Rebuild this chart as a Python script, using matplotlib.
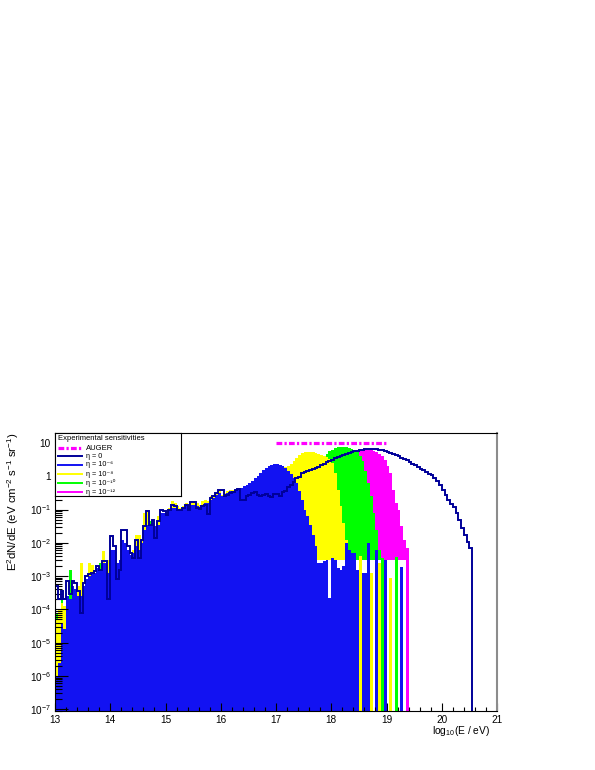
# E^2 dN/dE spectra for several eta values, ROOT-style log plot
import numpy as np
import matplotlib.pyplot as plt
from matplotlib.ticker import FixedLocator, LogLocator, NullFormatter, FuncFormatter, MultipleLocator

plt.rcParams['font.family'] = ['Liberation Sans', 'DejaVu Sans']
plt.rcParams['mathtext.fontset'] = 'custom'
plt.rcParams['mathtext.rm'] = 'Liberation Sans'
plt.rcParams['mathtext.it'] = 'Liberation Sans:italic'
plt.rcParams['mathtext.default'] = 'regular'

# histogram binning: log10(E/eV) from 13 in steps of 0.05
E_START = 13.0
BIN_W = 0.05

# log10 of bin contents, one row = 10 bins (0.5 in log10 E); nan = empty bin
nan = np.nan
eta_0 = [
    -3.3, -3.7, -3.45, -3.7, -3.15, -3.55, -3.15, -3.2, -3.45, -4.1,
    -3.2, -3.0, -2.95, -2.9, -2.85, -2.7, -2.8, -2.55, -2.55, -3.7,
    -1.8, -2.1, -3.1, -2.8, -1.6, -1.6, -2.1, -2.3, -2.45, -1.9,
    -2.45, -1.9, -1.5, -1.05, -1.45, -1.3, -1.85, -1.35, -1.0, -1.05,
    -1.15, -1.0, -0.85, -0.9, -1.0, -1.0, -0.95, -0.87, -1.0, -0.78,
    -0.78, -0.95, -0.97, -0.9, -0.85, -1.12, -0.65, -0.6, -0.5, -0.42,
    -0.4, -0.6, -0.55, -0.5, -0.48, -0.4, -0.38, -0.7, -0.72, -0.58,
    -0.57, -0.5, -0.47, -0.55, -0.6, -0.55, -0.52, -0.6, -0.62, -0.52,
    -0.52, -0.58, -0.47, -0.45, -0.32, -0.25, -0.17, -0.05, -0.02, 0.1,
    0.13, 0.17, 0.2, 0.22, 0.25, 0.28, 0.33, 0.37, 0.42, 0.46,
    0.5, 0.54, 0.58, 0.62, 0.65, 0.68, 0.7, 0.73, 0.75, 0.77,
    0.79, 0.8, 0.81, 0.82, 0.82, 0.82, 0.81, 0.8, 0.78, 0.76,
    0.73, 0.7, 0.67, 0.63, 0.6, 0.56, 0.52, 0.48, 0.43, 0.38,
    0.33, 0.28, 0.23, 0.18, 0.13, 0.08, 0.03, -0.05, -0.15, -0.27,
    -0.4, -0.55, -0.7, -0.82, -0.93, -1.1, -1.3, -1.55, -1.75, -1.98,
    -2.15,
]
eta_6 = [
    -6.0, -5.6, -4.4, -4.6, -3.6, -3.7, -3.3, -3.4, -3.6, -3.6,
    -3.3, -3.1, -3.0, -2.95, -2.9, -2.75, -2.85, -2.6, -2.6, -2.9,
    -2.2, -2.2, -2.6, -2.5, -1.9, -2.0, -2.2, -2.35, -2.3, -2.1,
    -2.2, -2.0, -1.6, -1.45, -1.5, -1.4, -1.5, -1.45, -1.1, -1.1,
    -1.15, -1.05, -0.95, -0.95, -1.0, -1.0, -0.95, -0.9, -0.95, -0.85,
    -0.85, -0.9, -0.95, -0.85, -0.8, -0.8, -0.7, -0.65, -0.55, -0.5,
    -0.6, -0.55, -0.5, -0.45, -0.45, -0.4, -0.35, -0.35, -0.3, -0.25,
    -0.2, -0.15, -0.05, 0.02, 0.1, 0.18, 0.25, 0.3, 0.35, 0.37,
    0.37, 0.35, 0.3, 0.25, 0.17, 0.07, -0.05, -0.2, -0.45, -0.7,
    -1.0, -1.2, -1.45, -1.75, -2.1, -2.6, -2.6, -2.55, -2.5, -3.65,
    -2.45, -2.5, -2.75, -2.8, -2.7, -2.0, -2.2, -2.3, -2.3, -2.8,
    nan, -2.9, -2.9, -2.0, nan, nan, -2.2, nan, nan, -2.5,
    nan, nan, nan, nan, nan, -2.73,
]
eta_8 = [
    -4.3, -4.0, -3.8, -3.9, -3.7, -3.9, -3.5, -3.6, -3.3, -2.6,
    -3.4, -3.2, -2.6, -2.65, -3.0, -2.9, -2.9, -2.25, -2.7, -2.5,
    -2.4, -2.3, -2.7, -2.6, -2.0, -2.1, -2.3, -2.4, -2.2, -1.75,
    -1.75, -1.9, -1.1, -1.0, -1.6, -1.5, -1.6, -1.2, -1.2, -1.1,
    -1.0, -0.95, -0.75, -0.8, -0.9, -0.95, -0.9, -0.8, -0.85, -0.8,
    -0.75, -0.8, -0.85, -0.75, -0.7, -0.75, -0.6, -0.55, -0.5, -0.45,
    -0.55, -0.5, -0.45, -0.4, -0.4, -0.45, -0.4, -0.35, -0.35, -0.3,
    -0.3, -0.25, -0.2, -0.15, -0.1, -0.05, 0.0, 0.05, 0.1, 0.15,
    0.2, 0.22, 0.25, 0.28, 0.3, 0.38, 0.47, 0.56, 0.64, 0.7,
    0.73, 0.74, 0.74, 0.72, 0.7, 0.67, 0.63, 0.6, 0.57, 0.52,
    0.4, 0.1, -0.4, -0.9, -1.4, -1.9, -2.4, -2.6, -2.6, nan,
    -2.4, nan, nan, nan, -2.9, nan, nan, -2.6, nan, nan,
    nan, -3.05,
]
eta_10 = [
    -4.1, -4.0, -3.7, -4.0, -3.8, -2.8, -3.4, -3.5, -3.4, -3.2,
    -3.4, -3.2, -3.0, -3.0, -3.0, -2.85, -2.6, -2.6, -2.7, -2.8,
    -2.4, -2.3, -2.7, -2.6, -2.1, -2.1, -2.3, -2.4, -2.3, -2.1,
    -2.1, -2.0, -1.6, -1.5, -1.35, -1.5, -1.6, -1.4, -1.2, -1.1,
    -1.1, -0.95, -0.9, -0.9, -1.0, -1.0, -0.95, -0.9, -0.9, -0.85,
    -0.8, -0.85, -0.9, -0.8, -0.8, -0.8, -0.65, -0.6, -0.55, -0.5,
    -0.55, -0.5, -0.45, -0.45, -0.4, -0.4, -0.4, -0.35, -0.3, -0.3,
    -0.3, -0.25, -0.2, -0.15, -0.1, -0.05, 0.0, 0.05, 0.1, 0.12,
    0.15, 0.18, 0.2, 0.22, 0.24, 0.26, 0.28, 0.3, 0.32, 0.34,
    0.36, 0.38, 0.4, 0.42, 0.44, 0.47, 0.52, 0.6, 0.68, 0.75,
    0.8, 0.84, 0.87, 0.89, 0.89, 0.88, 0.86, 0.83, 0.79, 0.72,
    0.6, 0.45, 0.15, -0.2, -0.6, -1.1, -1.6, -2.2, -2.45, nan,
    nan, nan, nan, -2.43,
]
eta_12 = [
    -4.6, -4.4, -3.5, -4.2, -3.9, -3.4, -3.6, -3.6, -3.7, -3.4,
    -3.5, -3.3, -3.1, -3.1, -3.1, -3.0, -2.8, -2.7, -2.8, -3.0,
    -2.5, -2.4, -2.8, -2.7, -2.2, -2.2, -2.4, -2.5, -2.4, -2.2,
    -2.3, -2.1, -1.7, -1.6, -1.6, -1.55, -1.65, -1.5, -1.25, -1.2,
    -1.2, -1.05, -1.0, -1.0, -1.05, -1.05, -1.0, -0.95, -0.95, -0.9,
    -0.9, -0.9, -0.95, -0.9, -0.85, -0.85, -0.7, -0.7, -0.6, -0.55,
    -0.6, -0.55, -0.5, -0.5, -0.45, -0.45, -0.4, -0.4, -0.35, -0.35,
    -0.3, -0.3, -0.25, -0.2, -0.15, -0.1, -0.05, 0.0, 0.05, 0.08,
    0.1, 0.12, 0.14, 0.16, 0.18, 0.2, 0.22, 0.24, 0.26, 0.28,
    0.3, 0.32, 0.34, 0.36, 0.38, 0.4, 0.42, 0.44, 0.46, 0.48,
    0.5, 0.53, 0.56, 0.59, 0.62, 0.65, 0.68, 0.72, 0.77, 0.8,
    0.82, 0.82, 0.82, 0.8, 0.78, 0.75, 0.72, 0.68, 0.6, 0.5,
    0.3, 0.1, -0.4, -0.8, -1.0, -1.5, -1.9, -2.15,
]

# AUGER sensitivity band
auger_E = [17.0, 19.0]
auger_flux = [10.0, 10.0]

labels = ['η = 0', 'η = 10⁻⁶', 'η = 10⁻⁸', 'η = 10⁻¹⁰', 'η = 10⁻¹²']

Y_LO, Y_HI = 10 ** -7.05, 10 ** 1.30
FLOOR = 10 ** -2.5

# filled histograms, drawn back to front: (values, colour, bump range whose fill stops at FLOOR)
filled = [
    (eta_12, '#ff00ff', (17.5, 19.35)),
    (eta_10, '#00ff00', (17.75, 18.9)),
    (eta_8, '#ffff00', (17.25, 18.35)),
    (eta_6, '#1212f2', None),
]


def to_hist(logv):
    v = 10 ** np.array(logv, dtype=float)
    v = np.where(np.isnan(v), Y_LO * 0.1, v)
    edges = E_START + BIN_W * np.arange(len(v) + 1)
    return v, edges


fig = plt.figure(figsize=(5.95, 7.70), dpi=100)
ax = fig.add_axes([55 / 595, 1 - 711 / 770, 442 / 595, 278 / 770])

for k, (vals, col, bump) in enumerate(filled):
    v, edges = to_hist(vals)
    base = np.full(len(v), Y_LO * 0.1)
    if bump is not None:
        lo_e = edges[:-1]
        base = np.where((lo_e > bump[0] - 1e-6) & (lo_e < bump[1] - 1e-6), FLOOR, base)
    ax.stairs(v, edges, baseline=base, fill=True, color=col, lw=0, zorder=1 + 0.1 * k)

v0, e0 = to_hist(eta_0)
ax.stairs(v0, e0, baseline=Y_LO * 0.1, color='#000099', lw=1.4, zorder=1.8)

ax.plot(auger_E, auger_flux, color='#ff00ff', lw=2.3,
        linestyle=(0, (1.8, 0.7, 0.7, 0.7)), zorder=1.9)

ax.set_yscale('log')
ax.set_xlim(13, 21)
ax.set_ylim(Y_LO, Y_HI)

ax.xaxis.set_major_locator(MultipleLocator(1))
ax.xaxis.set_minor_locator(MultipleLocator(0.2))
ax.yaxis.set_major_locator(FixedLocator([10.0 ** k for k in range(-7, 2)]))
ax.yaxis.set_minor_locator(LogLocator(base=10, subs=np.arange(2, 10)))
ax.yaxis.set_minor_formatter(NullFormatter())


def ylab(v, pos):
    k = int(round(np.log10(v)))
    if k == 0:
        return '1'
    if k == 1:
        return '10'
    return r'10$^{%d}$' % k


ax.yaxis.set_major_formatter(FuncFormatter(ylab))
ax.tick_params(axis='x', which='major', direction='in', length=5.8, width=0.8,
               labelsize=7.2, pad=3, top=False)
ax.tick_params(axis='x', which='minor', direction='in', length=2.9, width=0.8, top=False)
ax.tick_params(axis='y', which='major', direction='in', length=9.4, width=0.8,
               labelsize=7.2, pad=3, right=False)
ax.tick_params(axis='y', which='minor', direction='in', length=4.7, width=0.8, right=False)

for s in ['left', 'bottom', 'top']:
    ax.spines[s].set_linewidth(0.8)
    ax.spines[s].set_zorder(3)
ax.spines['right'].set_color('#8c8c8c')
ax.spines['right'].set_linewidth(1.5)

# axis titles at the ends of the axes, like ROOT
ax.text(0.985, -0.048, r'log$_{10}$(E / eV)', transform=ax.transAxes,
        ha='right', va='top', fontsize=7.4)
fig.text(13 / 595, 1 - 433 / 770,
         r'E$^{2}$dN/dE (eV cm$^{-2}$ s$^{-1}$ sr$^{-1}$)',
         rotation=90, ha='center', va='top', fontsize=8.2)

# legend box in the top-left corner
lg = fig.add_axes([55 / 595, 1 - 496 / 770, 126 / 595, 63 / 770])
lg.set_xlim(0, 126)
lg.set_ylim(63, 0)
lg.set_xticks([])
lg.set_yticks([])
for s in lg.spines.values():
    s.set_linewidth(0.8)
lg.text(3, 5, 'Experimental sensitivities', fontsize=5.5, va='center', ha='left')
rows_y = [15, 23, 32, 41, 50, 59]
lg.plot([3, 27], [rows_y[0]] * 2, color='#ff00ff', lw=2.3,
        linestyle=(0, (1.8, 0.7, 0.7, 0.7)))
lg.text(31, rows_y[0], 'AUGER', fontsize=5.5, va='center', ha='left')
line_cols = ['#000099', '#1212f2', '#ffff00', '#00ff00', '#ff00ff']
for y, col, lab in zip(rows_y[1:], line_cols, labels):
    lg.plot([3, 27], [y, y], color=col, lw=1.4)
    lg.text(31, y, lab, fontsize=5.2, va='center', ha='left',
            family=['Liberation Sans', 'DejaVu Sans'])

fig.savefig('out.png', dpi=100)
